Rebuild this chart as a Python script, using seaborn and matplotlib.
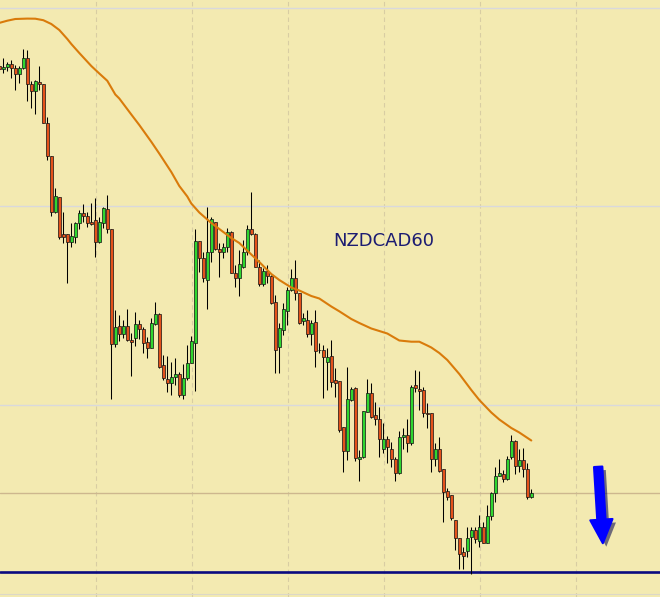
import numpy as np
import matplotlib
matplotlib.use("Agg")
import matplotlib.pyplot as plt
import matplotlib.patheffects as pe
from matplotlib.patches import FancyArrowPatch
import seaborn as sns

# NZDCAD H1 - OHLC (unités arbitraires)
opens = [534, 530.7, 532.7, 535.7, 531.7, 525.7, 531.7, 541.7, 515.7, 509.3,
         517.7, 515.7, 477.3, 444, 388.3, 402.7, 365.7, 365.7, 357.7, 363.3,
         376.7, 387.3, 384, 377.7, 380, 357.7, 376.7, 390.7, 370.7, 255.7,
         274, 265.7, 274, 260, 261.7, 275.7, 270.7, 257.7, 252.3, 275.7,
         285.7, 235, 220.7, 216.7, 222.7, 226, 205, 221.7, 237.3, 257.3,
         359.3, 341.7, 320, 347.7, 378.3, 350.7, 347.7, 353.3, 367.7, 327.3,
         321.7, 333.3, 348.3, 370.7, 366, 333.3, 315.7, 329.3, 324, 297.7,
         253.3, 270, 289.3, 310, 321.7, 306.7, 279.3, 280, 265.7, 278.3,
         250, 250, 238.3, 244, 220, 219, 172.7, 149.3, 200, 212,
         140.7, 142.7, 188.3, 206.7, 185, 180.7, 150.7, 160.7, 150.7, 140.7,
         126.7, 162.7, 165, 156.7, 215, 210.7, 210, 186.7, 186.7, 140.7,
         150.7, 130.7, 109, 105, 80, 61.7, 47.7, 49.3, 62.7, 70,
         59.3, 73.3, 57.3, 84.3, 106.7, 124.3, 125.7, 121, 142.7, 159,
         134.3, 140, 130.7, 102.7]
highs = [537, 542, 538.5, 540, 535, 534.5, 551.5, 550, 519.5, 520,
         534, 516, 482.7, 444, 411.7, 403, 388.3, 366, 376.7, 378.3,
         390, 395.7, 388.3, 396.7, 401.7, 383.3, 393.3, 405, 371, 290,
         285, 280, 290.7, 266.7, 288.3, 280, 273.3, 263.3, 281.7, 297.7,
         286.7, 245, 244, 238.3, 241.7, 228.3, 236, 255, 264.3, 370.7,
         359.5, 348.3, 393.3, 383.3, 378.5, 356.7, 356.7, 371.7, 369.3, 335,
         350, 360, 375, 408.3, 367.3, 340, 332.3, 335, 325, 305,
         276.7, 296.7, 313.3, 330.7, 340, 307.3, 286.7, 290, 280, 290,
         256.7, 255, 251.7, 260, 231.7, 219, 173.3, 233.3, 213.3, 213.3,
         150.5, 189, 221, 216.7, 198.3, 193.3, 176.7, 164, 158.3, 142.7,
         169, 172.3, 180.7, 215, 230, 229, 213.3, 196.7, 187.3, 156.7,
         163.3, 131, 112, 105, 80, 62.3, 53.3, 73.3, 73.3, 73.3,
         85, 78.3, 95, 108.3, 133.3, 140.7, 130, 144, 165, 160,
         150.7, 151.7, 136.7, 110.7]
lows = [529, 527.5, 529, 521.7, 510.5, 517, 531.5, 499, 492, 486,
        510, 476.7, 440.5, 384, 387, 361.3, 356.7, 317.3, 353.3, 357.3,
        370.7, 378.3, 373.3, 375, 343.3, 357.5, 371.7, 367.3, 200.7, 253.3,
        259, 261.7, 259, 224.3, 254, 260.7, 246.7, 241.7, 251.7, 275,
        231.7, 220, 208.3, 205, 215, 203.3, 200.7, 220, 237, 209.3,
        328.3, 318.3, 290.7, 338.3, 350, 323.3, 341.7, 348.3, 326.7, 313.3,
        304, 331.7, 345, 365, 333.3, 314, 314, 316.7, 296.5, 226.7,
        226.7, 265, 275, 309.5, 300, 276, 275, 263.3, 255, 233.3,
        246.7, 201.7, 210, 212.7, 203.3, 168.3, 128.3, 140, 199.5, 139.3,
        119.3, 142.5, 188, 182, 175, 143.3, 146.7, 137.3, 133.3, 119.3,
        126.5, 150.7, 148.3, 155, 208.3, 190, 182.7, 171.7, 128.3, 134,
        128.3, 78.3, 100, 80, 50, 31, 31, 43.3, 26, 57.3,
        52.7, 57.3, 57, 80, 98.3, 124, 118.3, 120.5, 140.7, 125.7,
        127.7, 123.3, 100.7, 102.5]
closes = [531, 533, 535.7, 531.7, 525.7, 531.7, 541.7, 515.7, 509.3, 519.5,
          515.7, 477.3, 444.3, 388.3, 404, 363.3, 363.3, 357.7, 364, 376.7,
          387.3, 384, 376.7, 376, 357.7, 377.7, 391.7, 370.7, 255.7, 272.7,
          265.7, 274, 260, 257.7, 275.7, 270.7, 257.3, 252.3, 276.7, 285.7,
          233.3, 222.3, 216.7, 222.7, 225.7, 205, 221.7, 237.3, 259.3, 359,
          341.7, 321.7, 347.7, 380.7, 350.7, 347.7, 352.7, 368.3, 327.3, 321.7,
          335.7, 348.3, 370.7, 365.7, 333.3, 315.7, 329, 324, 296.7, 250,
          271.7, 290.7, 310, 321.7, 307.3, 277.3, 281.7, 265.7, 277.3, 249.3,
          249.7, 243.3, 242.7, 218.3, 216.7, 170, 149.3, 200.7, 210.7, 142,
          142.7, 189, 206.7, 182.7, 180.7, 160.7, 160.7, 152.7, 140.7, 126.7,
          162.7, 165, 156.7, 213.3, 211.7, 209.5, 186.7, 186.4, 140.7, 150.7,
          129.3, 108.3, 102.7, 82.3, 61.7, 45.7, 44.3, 61.7, 70, 60.7,
          73.3, 57.3, 84.3, 106.7, 124, 126.7, 121, 140.7, 159, 134.3,
          140, 130.7, 102.7, 106.7]

ma_idx = [0, 2, 4, 7, 9, 11, 13, 15, 17, 18, 20, 23,
          25, 27, 29, 30, 33, 35, 38, 40, 43, 45, 47, 48,
          50, 53, 55, 58, 60, 63, 65, 68, 70, 73, 75, 78, 80, 83, 85, 88, 90, 93, 95, 97,
          100, 103, 105, 107, 108, 110, 112, 115, 118, 120, 123, 125, 128, 130, 133]
ma_val = [577.1, 579.3, 581, 581.4, 581.3, 579.8, 576, 570, 561, 556, 547, 534,
          526.5, 519.2, 505.5, 501.5, 485.5, 475, 458.2, 446.4, 428, 414, 403.5, 396.5,
          387.5, 377, 371, 362, 357, 345.5, 338, 326, 320, 312.5, 309.5, 304, 301.5, 293.5, 288.7, 281, 277, 271.5, 269, 266.5,
          259.5, 258.3, 258.3, 254.5, 252.5, 247, 240, 226, 210, 200, 187.5, 180.5, 172, 167.5, 159.5]

# niveaux horizontaux
grid_levels = [194.7, 394, 591.7]
time_ticks = [24.1, 48.1, 72.1, 96.1, 120.1, 144.1]
level_tan = 107
level_support = 28
symbol = "NZDCAD60"

bg = "#F3EAB1"
sns.set_theme(style="white", rc={"axes.facecolor": bg, "figure.facecolor": bg})
plt.rcParams["font.family"] = ["DejaVu Sans"]

fig = plt.figure(figsize=(6.6, 5.97), dpi=100)
ax = fig.add_axes([0, 0, 1, 1])
ax.set_facecolor(bg)

o = np.array(opens)
h = np.array(highs)
l = np.array(lows)
c = np.array(closes)
x = np.arange(len(o))
up = c >= o
colors = np.where(up, "#2FD62F", "#E4521B")

# mèches puis corps
ax.vlines(x, l, h, color="black", linewidth=0.75, zorder=3)
body_low = np.minimum(o, c)
body_h = np.maximum(np.abs(c - o), 0.4)
ax.bar(x, body_h, bottom=body_low, width=0.7, color=colors,
       edgecolor="#111111", linewidth=0.5, zorder=4)

# moyenne mobile
sns.lineplot(x=ma_idx, y=ma_val, ax=ax, color="#D97B0B", linewidth=1.5, zorder=5)

# lignes horizontales
ax.axhline(level_tan, color="#CDB78E", linewidth=1.0, zorder=2)
ax.axhline(level_support, color="#0A0A80", linewidth=1.9, zorder=2)
ax.axhline(6, color="#DCD8C8", linewidth=0.8, zorder=2)

ax.set_xlim(0.175, 165.175)
ax.set_ylim(3, 600)
ax.set_xticks(time_ticks)
ax.set_yticks(grid_levels)
ax.set_xticklabels([])
ax.set_yticklabels([])
ax.tick_params(length=0)
ax.yaxis.grid(True, color="#D9D9DC", linewidth=1.0, linestyle="-")
ax.xaxis.grid(True, color="#D8CDA3", linewidth=0.8, linestyle=(0, (4, 3)))
ax.set_axisbelow(True)
for s in ax.spines.values():
    s.set_visible(False)

ax.text(384 / 660, 1 - 241 / 597, symbol, transform=ax.transAxes,
        ha="center", va="center", fontsize=13, color="#1C1C72")

# flèche bleue
arrow = FancyArrowPatch((598 / 660, 1 - 464 / 597), (603 / 660, 1 - 546 / 597),
                        transform=ax.transAxes,
                        arrowstyle="simple,head_length=17,head_width=16,tail_width=6",
                        color="#0000FF", mutation_scale=1, zorder=6,
                        joinstyle="round", capstyle="round", linewidth=1.5,
                        path_effects=[pe.SimplePatchShadow(offset=(2.5, -2.5), alpha=0.55),
                                      pe.Normal()])
ax.add_patch(arrow)

plt.savefig("out.png", dpi=100)
